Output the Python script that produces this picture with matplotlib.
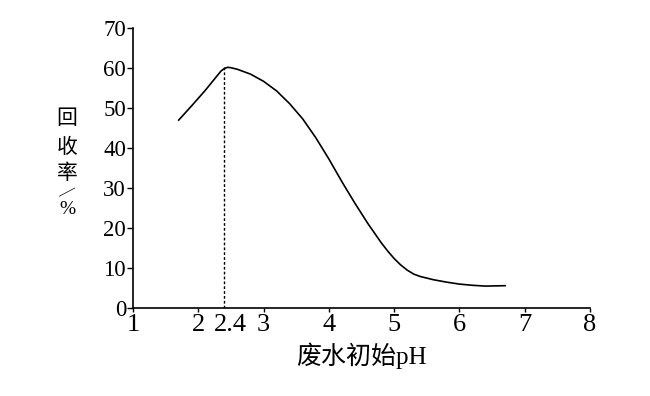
import matplotlib.pyplot as plt
import matplotlib.transforms as mtransforms

plt.rcParams['font.family'] = ['Liberation Serif', 'Noto Sans CJK SC']

# 读图数据：废水初始pH 与 回收率(%)
ph = [1.7, 1.9, 2.1, 2.2, 2.3, 2.35, 2.4, 2.45, 2.5, 2.6, 2.8, 3.0, 3.2, 3.4,
      3.6, 3.8, 4.0, 4.2, 4.4, 4.6, 4.8, 4.9, 5.0, 5.1, 5.2, 5.3, 5.4, 5.5,
      5.6, 5.8, 6.0, 6.2, 6.4, 6.7]
rate = [47.0, 50.6, 54.3, 56.3, 58.3, 59.3, 59.9, 60.2, 60.1, 59.7, 58.5, 56.7,
        54.3, 51.1, 47.3, 42.6, 37.3, 31.6, 26.2, 21.1, 16.4, 14.3, 12.4, 10.8,
        9.5, 8.5, 7.9, 7.5, 7.1, 6.5, 6.0, 5.7, 5.5, 5.6]
peak_ph, peak_rate = 2.4, 60.2

xticks = [1, 2, 2.4, 3, 4, 5, 6, 7, 8]
xlabels = ['1', '2', '2.4', '3', '4', '5', '6', '7', '8']
yticks = [0, 10, 20, 30, 40, 50, 60, 70]

fig = plt.figure(figsize=(6.5, 3.96), dpi=100)
ax = fig.add_axes([0.2046, 0.222, 0.703, 0.707])

ax.plot(ph, rate, color='black', lw=1.2)
ax.plot([peak_ph, peak_ph], [0, peak_rate], color='black', lw=1.0,
        linestyle=(0, (2, 1.5)))

ax.set_xlim(1, 8)
ax.set_ylim(0, 70)
ax.set_xticks(xticks)
ax.set_xticklabels(xlabels)
ax.set_yticks(yticks)
ax.xaxis.get_major_ticks()[2].tick1line.set_visible(False)

for s in ['top', 'right']:
    ax.spines[s].set_visible(False)
for s in ['left', 'bottom']:
    ax.spines[s].set_linewidth(1.2)

ax.tick_params(axis='x', direction='out', length=3, width=1, labelsize=19, pad=1)
ax.tick_params(axis='y', direction='out', length=4, width=1, labelsize=16.5, pad=1)

# "2.4" 标签稍向右偏，避免与 "2" 挤在一起
lab = ax.get_xticklabels()[2]
lab.set_transform(lab.get_transform() +
                  mtransforms.ScaledTranslation(6 / 100, 0, fig.dpi_scale_trans))

ax.set_xlabel('废水初始pH', fontsize=18, labelpad=5)

# 纵轴标题竖排（斜线用倾斜的长划）
ylab_chars = ['回', '收', '率', '—', '%']
ylab_y = [120, 148, 174, 192, 209]
ylab_size = [15, 15, 15, 13, 14]
ylab_rot = [0, 0, 0, 28, 0]
for ch, yy, fs, rot in zip(ylab_chars, ylab_y, ylab_size, ylab_rot):
    fig.text(67 / 650, 1 - yy / 396, ch, fontsize=fs, ha='center', va='center',
             rotation=rot, rotation_mode='anchor')

fig.savefig('out.png', dpi=100)
